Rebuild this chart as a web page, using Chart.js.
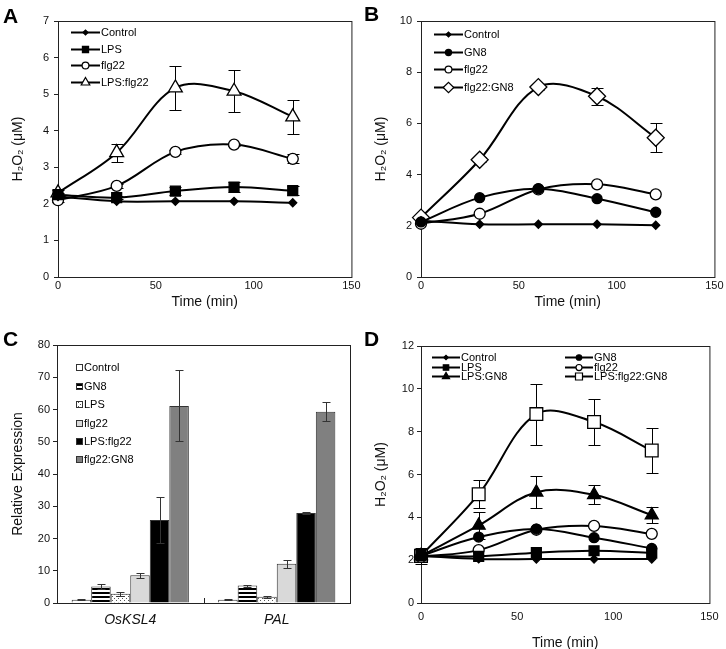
<!DOCTYPE html>
<html>
<head>
<meta charset="utf-8">
<script src="https://cdn.jsdelivr.net/npm/chart.js@4.4.1/dist/chart.umd.min.js"></script>
<style>
    html, body { margin: 0; padding: 0; background: #fff; overflow: hidden; }
    #wrap { position: relative; width: 726px; height: 649px; }
    canvas { position: absolute; }
    .tag { position: absolute; font: bold 21px 'Liberation Sans', Arial, sans-serif; line-height: 21px; color: #000; }
</style>
</head>
<body>
<div id="wrap">
    <canvas id="cA" width="363" height="320" style="left:0;top:0"></canvas>
    <canvas id="cB" width="363" height="320" style="left:363px;top:0"></canvas>
    <canvas id="cC" width="363" height="329" style="left:0;top:320px"></canvas>
    <canvas id="cD" width="363" height="340" style="left:363px;top:320px"></canvas>
    <div class="tag" style="left:3px;top:5px">A</div>
    <div class="tag" style="left:364px;top:3px">B</div>
    <div class="tag" style="left:3px;top:328px">C</div>
    <div class="tag" style="left:364px;top:328px">D</div>
</div>
<script>
(function () {
    'use strict';

    // ─── Data ────────────────────────────────────────────────────────────────
    const TIMES    = [0, 30, 60, 90, 120];
    const X_TICKS  = [0, 50, 100, 150];

    // Panel A
    const A_Y_TICKS      = [0, 1, 2, 3, 4, 5, 6, 7];
    const A_CONTROL      = [2.20, 2.07, 2.07, 2.07, 2.03];
    const A_LPS          = [2.25, 2.17, 2.35, 2.46, 2.36];
    const A_LPS_ERR      = [0.05, 0.05, 0.10, 0.14, 0.12];
    const A_FLG22        = [2.10, 2.49, 3.42, 3.62, 3.23];
    const A_FLG22_ERR    = [0.05, 0.05, 0.05, 0.05, 0.12];
    const A_LPS_FLG22    = [2.30, 3.40, 5.17, 5.08, 4.38];
    const A_LPS_FLG22_ERR= [0.08, 0.25, 0.60, 0.57, 0.47];

    // Panel B
    const B_Y_TICKS      = [0, 2, 4, 6, 8, 10];
    const B_CONTROL      = [2.20, 2.06, 2.06, 2.06, 2.02];
    const B_GN8          = [2.15, 3.10, 3.45, 3.06, 2.53];
    const B_FLG22        = [2.08, 2.47, 3.42, 3.62, 3.23];
    const B_FLG22_GN8    = [2.32, 4.58, 7.42, 7.06, 5.44];
    const B_FLG22_GN8_ERR= [0.05, 0.10, 0.10, 0.33, 0.57];

    // Panel C
    const C_GENES        = ['OsKSL4', 'PAL'];
    const C_Y_TICKS      = [0, 10, 20, 30, 40, 50, 60, 70, 80];
    const C_CONTROL      = [1.0, 1.0];
    const C_CONTROL_ERR  = [0.1, 0.1];
    const C_GN8          = [5.1, 5.4];
    const C_GN8_ERR      = [0.7, 0.3];
    const C_LPS          = [2.9, 1.9];
    const C_LPS_ERR      = [0.6, 0.2];
    const C_FLG22        = [8.6, 12.2];
    const C_FLG22_ERR    = [0.7, 1.2];
    const C_LPS_FLG22    = [25.7, 27.9];
    const C_LPS_FLG22_ERR= [7.2, 0.4];
    const C_FLG22_GN8    = [61.1, 59.3];
    const C_FLG22_GN8_ERR= [11.0, 2.9];

    // Panel D
    const D_Y_TICKS      = [0, 2, 4, 6, 8, 10, 12];
    const D_CONTROL      = [2.20, 2.06, 2.05, 2.05, 2.05];
    const D_LPS          = [2.22, 2.18, 2.35, 2.44, 2.33];
    const D_GN8          = [2.20, 3.08, 3.45, 3.05, 2.55];
    const D_FLG22        = [2.15, 2.47, 3.42, 3.60, 3.23];
    const D_LPS_GN8      = [2.20, 3.62, 5.17, 5.05, 4.10];
    const D_LPS_GN8_ERR  = [0.10, 0.65, 0.75, 0.45, 0.37];
    const D_ALL3         = [2.20, 5.08, 8.82, 8.45, 7.12];
    const D_ALL3_ERR     = [0.38, 0.65, 1.42, 1.07, 1.07];

    // ─── Styling ─────────────────────────────────────────────────────────────
    const FONT = "'Liberation Sans', Arial, Helvetica, sans-serif";
    Chart.defaults.font.family = FONT;
    Chart.defaults.color = '#000';

    const MARK = {
        control: { style: 'rectRot',  r: 4,   fill: '#000' },
        lps:     { style: 'rect',     r: 7,   fill: '#000' },
        gn8:     { style: 'circle',   r: 5,   fill: '#000' },
        flg22:   { style: 'circle',   r: 5.5, fill: '#fff' },
        lpsFlg:  { style: 'triangle', r: 8,   fill: '#fff' },
        flgGn8:  { style: 'rectRot',  r: 8.5, fill: '#fff' },
        lpsGn8:  { style: 'triangle', r: 7.5, fill: '#000' },
        all3:    { style: 'rect',     r: 9,   fill: '#fff' }
    };

    function makePattern(bg, draw) {
        const c = document.createElement('canvas');
        c.width = 4; c.height = 4;
        const g = c.getContext('2d');
        g.fillStyle = bg; g.fillRect(0, 0, 4, 4);
        draw(g);
        return g.createPattern(c, 'repeat');
    }
    const STRIPES = makePattern('#fff', g => { g.fillStyle = '#000'; g.fillRect(0, 0, 4, 2); });
    const DOTS    = makePattern('#fff', g => { g.fillStyle = '#555'; g.fillRect(0, 0, 1, 1); g.fillRect(2, 2, 1, 1); });

    // ─── Helpers ─────────────────────────────────────────────────────────────
    function series(label, values, key) {
        const m = MARK[key];
        return {
            label,
            showLine: true,
            data: TIMES.map((t, i) => ({ x: t, y: values[i] })),
            borderColor: '#000', borderWidth: 2, tension: 0.35, clip: false,
            pointStyle: m.style, pointRadius: m.r, pointHoverRadius: m.r,
            pointBackgroundColor: m.fill, pointBorderColor: '#000', pointBorderWidth: 1.3
        };
    }

    function fixedTicks(list) {
        return s => { s.ticks = list.map(v => ({ value: v })); };
    }

    const framePlugin = {
        id: 'frame',
        beforeDatasetsDraw(chart) {
            const a = chart.chartArea, ctx = chart.ctx;
            ctx.save();
            ctx.strokeStyle = '#222'; ctx.lineWidth = 1;
            ctx.strokeRect(a.left + 0.5, a.top + 0.5, a.right - a.left, a.bottom - a.top);
            ctx.restore();
        }
    };

    function errorBars(errs, opt) {
        const hook = opt.after ? 'afterDatasetsDraw' : 'beforeDatasetsDraw';
        return {
            id: 'errorBars',
            [hook](chart) {
                const ctx = chart.ctx, ys = chart.scales.y;
                ctx.save();
                ctx.strokeStyle = opt.color; ctx.lineWidth = 1;
                chart.data.datasets.forEach((ds, i) => {
                    const e = errs[i];
                    if (!e) return;
                    chart.getDatasetMeta(i).data.forEach((el, j) => {
                        if (!e[j]) return;
                        const v = typeof ds.data[j] === 'object' ? ds.data[j].y : ds.data[j];
                        const x = Math.round(el.x) + 0.5;
                        const y1 = Math.round(ys.getPixelForValue(v + e[j])) + 0.5;
                        const y2 = Math.round(ys.getPixelForValue(v - e[j])) + 0.5;
                        ctx.beginPath();
                        ctx.moveTo(x, y1); ctx.lineTo(x, y2);
                        ctx.moveTo(x - opt.cap, y1); ctx.lineTo(x + opt.cap, y1);
                        ctx.moveTo(x - opt.cap, y2); ctx.lineTo(x + opt.cap, y2);
                        ctx.stroke();
                    });
                });
                ctx.restore();
            }
        };
    }

    // items: [label, markKey, col, row]
    function lineLegend(items, o) {
        return {
            id: 'lineLegend',
            afterDraw(chart) {
                const a = chart.chartArea, ctx = chart.ctx;
                ctx.save();
                ctx.font = '11px ' + FONT;
                ctx.textBaseline = 'middle';
                items.forEach(([label, key, col, row]) => {
                    const x0 = a.left + o.x + col * o.colW;
                    const y  = Math.round(a.top + o.y + row * o.dy) + 0.5;
                    ctx.strokeStyle = '#000'; ctx.lineWidth = 2;
                    ctx.beginPath(); ctx.moveTo(x0, y); ctx.lineTo(x0 + o.len, y); ctx.stroke();
                    const m = MARK[key];
                    ctx.fillStyle = m.fill; ctx.lineWidth = 1.2;
                    Chart.helpers.drawPoint(ctx, { pointStyle: m.style, radius: m.r * o.k, borderWidth: 1.2, rotation: 0 }, x0 + o.len / 2, y);
                    ctx.fillStyle = '#000';
                    ctx.fillText(label, x0 + o.len + 1, y + 0.5);
                });
                ctx.restore();
            }
        };
    }

    function lineOptions(p) {
        return {
            responsive: false,
            animation: false,
            events: [],
            layout: { padding: { top: p.top, right: p.right, left: 0, bottom: 0 } },
            plugins: { legend: { display: false }, tooltip: { enabled: false } },
            scales: {
                x: {
                    type: 'linear', min: 0, max: 150,
                    afterBuildTicks: fixedTicks(X_TICKS),
                    ticks: { font: { size: 11 }, color: '#111', padding: p.xPad, maxRotation: 0 },
                    grid: { display: false, drawTicks: false }, border: { display: false },
                    title: { display: true, text: 'Time (min)', font: { size: 14 }, color: '#111', padding: { top: 0, bottom: p.xTitlePad } },
                    afterFit: s => { s.height = p.xHeight; }
                },
                y: {
                    type: 'linear', min: 0, max: p.yMax,
                    afterBuildTicks: fixedTicks(p.yTicks),
                    ticks: { font: { size: 11 }, color: '#111', padding: p.yPad },
                    grid: { drawOnChartArea: false, drawTicks: true, tickLength: 4, color: '#222' },
                    border: { display: false },
                    title: { display: true, text: 'H\u2082O\u2082 (\u03bcM)', font: { size: 14 }, color: '#111', padding: { top: 9.6, bottom: 0 } },
                    afterFit: s => { s.width = 58; }
                }
            }
        };
    }

    // ─── Panel A ─────────────────────────────────────────────────────────────
    new Chart(document.getElementById('cA'), {
        type: 'scatter',
        data: {
            datasets: [
                series('Control', A_CONTROL, 'control'),
                series('LPS', A_LPS, 'lps'),
                series('flg22', A_FLG22, 'flg22'),
                series('LPS:flg22', A_LPS_FLG22, 'lpsFlg')
            ]
        },
        options: lineOptions({ top: 21, right: 11, xHeight: 43, xPad: 2.4, xTitlePad: 9.6, yPad: 5, yMax: 7, yTicks: A_Y_TICKS }),
        plugins: [
            framePlugin,
            errorBars([null, A_LPS_ERR, A_FLG22_ERR, A_LPS_FLG22_ERR], { cap: 6, color: '#000' }),
            lineLegend([
                ['Control', 'control', 0, 0],
                ['LPS', 'lps', 0, 1],
                ['flg22', 'flg22', 0, 2],
                ['LPS:flg22', 'lpsFlg', 0, 3]
            ], { x: 13, y: 11, dy: 16.7, len: 29, colW: 0, k: 0.62 })
        ]
    });

    // ─── Panel B ─────────────────────────────────────────────────────────────
    new Chart(document.getElementById('cB'), {
        type: 'scatter',
        data: {
            datasets: [
                series('Control', B_CONTROL, 'control'),
                series('GN8', B_GN8, 'gn8'),
                series('flg22', B_FLG22, 'flg22'),
                series('flg22:GN8', B_FLG22_GN8, 'flgGn8')
            ]
        },
        options: lineOptions({ top: 21, right: 11, xHeight: 43, xPad: 2.4, xTitlePad: 9.6, yPad: 5, yMax: 10, yTicks: B_Y_TICKS }),
        plugins: [
            framePlugin,
            errorBars([null, null, null, B_FLG22_GN8_ERR], { cap: 6, color: '#000' }),
            lineLegend([
                ['Control', 'control', 0, 0],
                ['GN8', 'gn8', 0, 1],
                ['flg22', 'flg22', 0, 2],
                ['flg22:GN8', 'flgGn8', 0, 3]
            ], { x: 13, y: 13, dy: 17.5, len: 29, colW: 0, k: 0.62 })
        ]
    });

    // ─── Panel C ─────────────────────────────────────────────────────────────
    const C_SERIES = [
        ['Control',   C_CONTROL,     C_CONTROL_ERR,     '#ffffff'],
        ['GN8',       C_GN8,         C_GN8_ERR,         STRIPES],
        ['LPS',       C_LPS,         C_LPS_ERR,         DOTS],
        ['flg22',     C_FLG22,       C_FLG22_ERR,       '#d9d9d9'],
        ['LPS:flg22', C_LPS_FLG22,   C_LPS_FLG22_ERR,   '#000000'],
        ['flg22:GN8', C_FLG22_GN8,   C_FLG22_GN8_ERR,   '#808080']
    ];

    const barLegend = {
        id: 'barLegend',
        afterDraw(chart) {
            const a = chart.chartArea, ctx = chart.ctx;
            ctx.save();
            ctx.font = '11px ' + FONT;
            ctx.textBaseline = 'middle';
            C_SERIES.forEach(([label, , , fill], i) => {
                const y = Math.round(a.top + 22.3 + i * 18.4);
                ctx.fillStyle = fill;
                ctx.fillRect(a.left + 19, y - 3, 6, 6);
                ctx.strokeStyle = '#333'; ctx.lineWidth = 1;
                ctx.strokeRect(a.left + 19.5, y - 2.5, 6, 6);
                ctx.fillStyle = '#000';
                ctx.fillText(label, a.left + 27, y + 0.5);
            });
            ctx.restore();
        }
    };

    const catTick = {
        id: 'catTick',
        beforeDatasetsDraw(chart) {
            const xs = chart.scales.x, a = chart.chartArea, ctx = chart.ctx;
            ctx.save();
            ctx.strokeStyle = '#222'; ctx.lineWidth = 1;
            for (let i = 0; i < C_GENES.length - 1; i++) {
                const x = Math.round((xs.getPixelForValue(i) + xs.getPixelForValue(i + 1)) / 2) + 0.5;
                ctx.beginPath(); ctx.moveTo(x, a.bottom); ctx.lineTo(x, a.bottom - 5); ctx.stroke();
            }
            ctx.restore();
        }
    };

    new Chart(document.getElementById('cC'), {
        type: 'bar',
        data: {
            labels: C_GENES,
            datasets: C_SERIES.map(([label, vals, , fill]) => ({
                label, data: vals, backgroundColor: fill,
                borderColor: '#333', borderWidth: 1,
                categoryPercentage: 0.8, barPercentage: 1.0
            }))
        },
        options: {
            responsive: false,
            animation: false,
            events: [],
            layout: { padding: { top: 25, right: 13, left: 0, bottom: 0 } },
            plugins: { legend: { display: false }, tooltip: { enabled: false } },
            scales: {
                x: {
                    ticks: { font: { size: 14, style: 'italic' }, color: '#111', padding: 8.6 },
                    grid: { display: false, drawTicks: false }, border: { display: false },
                    afterFit: s => { s.height = 46; }
                },
                y: {
                    min: 0, max: 80,
                    afterBuildTicks: fixedTicks(C_Y_TICKS),
                    ticks: { font: { size: 11 }, color: '#111', padding: 3 },
                    grid: { drawOnChartArea: false, drawTicks: true, tickLength: 4, color: '#222' },
                    border: { display: false },
                    title: { display: true, text: 'Relative Expression', font: { size: 14 }, color: '#111', padding: { top: 9.6, bottom: 0 } },
                    afterFit: s => { s.width = 57; }
                }
            }
        },
        plugins: [
            framePlugin,
            catTick,
            errorBars(C_SERIES.map(s => s[2]), { cap: 4, color: '#333', after: true }),
            barLegend
        ]
    });

    // ─── Panel D ─────────────────────────────────────────────────────────────
    new Chart(document.getElementById('cD'), {
        type: 'scatter',
        data: {
            datasets: [
                series('Control', D_CONTROL, 'control'),
                series('GN8', D_GN8, 'gn8'),
                series('LPS', D_LPS, 'lps'),
                series('flg22', D_FLG22, 'flg22'),
                series('LPS:GN8', D_LPS_GN8, 'lpsGn8'),
                series('LPS:flg22:GN8', D_ALL3, 'all3')
            ]
        },
        options: lineOptions({ top: 26, right: 11, xHeight: 57, xPad: 7.4, xTitlePad: 8.6, yPad: 3, yMax: 12, yTicks: D_Y_TICKS }),
        plugins: [
            framePlugin,
            errorBars([null, null, null, null, D_LPS_GN8_ERR, D_ALL3_ERR], { cap: 6, color: '#000' }),
            lineLegend([
                ['Control', 'control', 0, 0],
                ['GN8', 'gn8', 1, 0],
                ['LPS', 'lps', 0, 1],
                ['flg22', 'flg22', 1, 1],
                ['LPS:GN8', 'lpsGn8', 0, 2],
                ['LPS:flg22:GN8', 'all3', 1, 2]
            ], { x: 11, y: 11, dy: 9.7, len: 28, colW: 133, k: 0.55 })
        ]
    });
})();
</script>
</body>
</html>
